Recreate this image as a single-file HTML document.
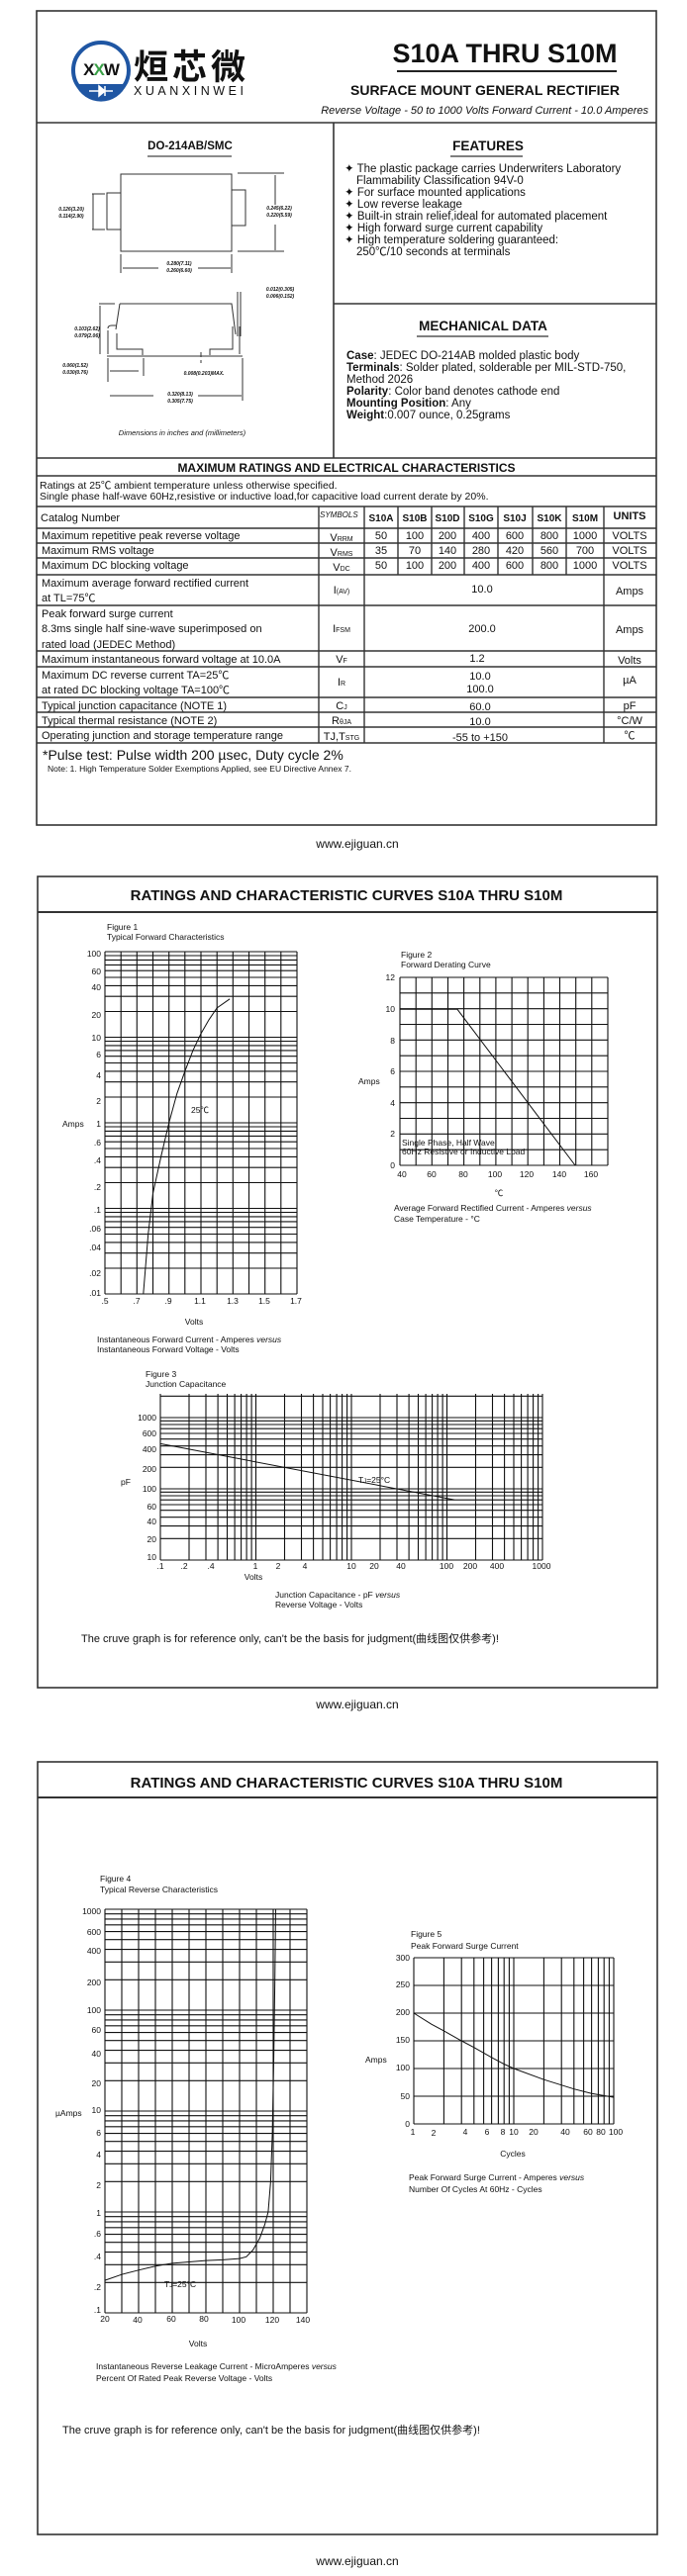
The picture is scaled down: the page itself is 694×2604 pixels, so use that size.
<!DOCTYPE html>
<html><head><meta charset="utf-8">
<style>
html,body{margin:0;padding:0;background:#fff;}
body{width:694px;height:2604px;overflow:hidden;}
svg{display:block;}
text{font-family:"Liberation Sans","Noto Sans CJK SC",sans-serif;fill:#111;}
</style></head>
<body>
<svg id="s" width="694" height="2604" viewBox="0 0 694 2604" xmlns="http://www.w3.org/2000/svg">
<g fill="none" stroke="#333" stroke-width="1.6">
<!-- page 1 box -->
<rect x="37" y="11" width="626" height="823"/>
<line x1="37" y1="124" x2="663" y2="124"/>
<line x1="337" y1="124" x2="337" y2="463"/>
<line x1="337" y1="307" x2="663" y2="307"/>
<line x1="37" y1="463" x2="663" y2="463"/>
<line x1="37" y1="481" x2="663" y2="481"/>
<line x1="37" y1="512" x2="663" y2="512"/>
</g>
<!-- logo -->
<circle cx="102" cy="71" r="28" fill="none" stroke="#1f56a3" stroke-width="4"/>
<path d="M76 85 A28 28 0 0 0 128 85 Z" fill="#1f56a3"/>
<path d="M90 92 H114 M100 87 L106 92 L100 97 Z M106 87 V97" stroke="#fff" stroke-width="1.5" fill="#fff"/>
<text x="102" y="76" font-size="17" text-anchor="middle" fill="#1f56a3" font-weight="bold" letter-spacing="-1">X<tspan fill="#3aa047">X</tspan>W</text>
<text x="135" y="80" font-size="35" font-weight="bold" font-family="Noto Sans CJK SC,sans-serif" textLength="113">烜芯微</text>
<text x="135" y="96" font-size="12.5" textLength="113" letter-spacing="2">XUANXINWEI</text>
<!-- title -->
<text x="510" y="63" font-size="27" font-weight="bold" text-anchor="middle">S10A THRU S10M</text>
<line x1="401" y1="72" x2="623" y2="72" stroke="#222" stroke-width="2"/>
<text x="490" y="96" font-size="14" font-weight="bold" text-anchor="middle">SURFACE MOUNT GENERAL RECTIFIER</text>
<text x="655" y="115" font-size="11" font-style="italic" text-anchor="end">Reverse Voltage - 50 to 1000 Volts    Forward Current - 10.0 Amperes</text>
<!-- package -->
<text x="192" y="151" font-size="11.5" font-weight="bold" text-anchor="middle">DO-214AB/SMC</text>
<line x1="149" y1="158" x2="234" y2="158" stroke="#444" stroke-width="1.2"/>
<g fill="none" stroke="#333" stroke-width="1">
<rect x="122" y="176" width="112" height="78"/>
<rect x="108" y="195" width="14" height="37"/>
<rect x="234" y="192" width="14" height="36"/>
<path d="M93 196 H106 M93 232 H106 M94 196 V232 M240 175 H287 M240 254 H287 M278 177 V207 M278 227 V253 M122 257 V276 M234 257 V276 M124 271 H160 M200 271 H233"/>
<path d="M121 307 H234 L238 338 M121 307 L117 333 M109 332 Q109 329 113 329 L117 329 M108 360 H245 M109 334 V358 M118 337 V353 H144 V359 M242 330 V358 M235 330 V353 H212 V359 M240 295 V340 M243 295 V340 M100 307 H116 M101 309 V358 M109 362 V386 M145 362 V380 M111 375 H140 M245 362 V405 M111 400 H155 M200 400 H244 M203 356 V361 M203 364 V367"/>
</g>
<g font-size="5" font-style="italic" font-weight="bold" text-anchor="middle" fill="#333">
<text x="72" y="213">0.126(3.20)</text><text x="72" y="220">0.114(2.90)</text>
<text x="282" y="212">0.245(6.22)</text><text x="282" y="219">0.220(5.59)</text>
<text x="181" y="268">0.280(7.11)</text><text x="181" y="275">0.260(6.60)</text>
<text x="283" y="294">0.012(0.305)</text><text x="283" y="301">0.006(0.152)</text>
<text x="88" y="334">0.103(2.62)</text><text x="88" y="341">0.079(2.06)</text>
<text x="76" y="371">0.060(1.52)</text><text x="76" y="378">0.030(0.76)</text>
<text x="206" y="379">0.008(0.203)MAX.</text>
<text x="182" y="400">0.320(8.13)</text><text x="182" y="407">0.305(7.75)</text>
</g>
<text x="184" y="440" font-size="7.5" font-style="italic" text-anchor="middle">Dimensions in inches and (millimeters)</text>
<!-- features -->
<text x="493" y="152" font-size="13.5" font-weight="bold" text-anchor="middle">FEATURES</text>
<line x1="455" y1="158" x2="528" y2="158" stroke="#333" stroke-width="1.3"/>
<g font-size="11.5">
<text x="348" y="174">✦ The plastic package carries Underwriters Laboratory</text>
<text x="360" y="186">Flammability Classification 94V-0</text>
<text x="348" y="198">✦ For surface mounted applications</text>
<text x="348" y="210">✦ Low reverse leakage</text>
<text x="348" y="222">✦ Built-in strain relief,ideal for automated placement</text>
<text x="348" y="234">✦ High forward surge current capability</text>
<text x="348" y="246">✦ High temperature soldering guaranteed:</text>
<text x="360" y="258">250℃/10 seconds at terminals</text>
</g>
<text x="488" y="334" font-size="13.5" font-weight="bold" text-anchor="middle">MECHANICAL DATA</text>
<line x1="421" y1="340" x2="554" y2="340" stroke="#333" stroke-width="1.3"/>
<g font-size="11.5">
<text x="350" y="363"><tspan font-weight="bold">Case</tspan>: JEDEC DO-214AB molded plastic body</text>
<text x="350" y="375"><tspan font-weight="bold">Terminals</tspan>: Solder plated, solderable per MIL-STD-750,</text>
<text x="350" y="387">Method 2026</text>
<text x="350" y="399"><tspan font-weight="bold">Polarity</tspan>: Color band denotes cathode end</text>
<text x="350" y="411"><tspan font-weight="bold">Mounting Position</tspan>: Any</text>
<text x="350" y="423"><tspan font-weight="bold">Weight</tspan>:0.007 ounce, 0.25grams</text>
</g>
<!-- ratings -->
<text x="350" y="477" font-size="12" font-weight="bold" text-anchor="middle">MAXIMUM RATINGS AND ELECTRICAL CHARACTERISTICS</text>
<text x="40" y="494" font-size="10.5">Ratings at 25℃ ambient temperature unless otherwise specified.</text>
<text x="40" y="505" font-size="10.5">Single phase half-wave 60Hz,resistive or inductive load,for capacitive load current derate by 20%.</text>
<g fill="none" stroke="#333" stroke-width="1.4">
<path d="M37 534 H663 M37 549 H663 M37 564 H663 M37 581 H663 M37 612 H663 M37 658 H663 M37 674 H663 M37 705 H663 M37 720 H663 M37 735 H663 M37 751 H663"/>
<path d="M322 512 V751 M368 512 V751 M610 512 V751 M402 512 V581 M436 512 V581 M469 512 V581 M503 512 V581 M538 512 V581 M572 512 V581"/>
</g>
<g font-size="11">
<text x="41" y="527">Catalog  Number</text>
<text x="323" y="523" font-size="8" font-style="italic">SYMBOLS</text>
<g font-weight="bold" font-size="10" text-anchor="middle">
<text x="385" y="527">S10A</text><text x="419" y="527">S10B</text><text x="452" y="527">S10D</text><text x="486" y="527">S10G</text><text x="520" y="527">S10J</text><text x="555" y="527">S10K</text><text x="591" y="527">S10M</text>
<text x="636" y="525" font-size="11">UNITS</text></g>
<text x="42" y="545">Maximum repetitive peak reverse voltage</text>
<text x="42" y="560">Maximum RMS voltage</text>
<text x="42" y="575">Maximum DC blocking voltage</text>
<text x="42" y="593">Maximum average forward rectified current</text>
<text x="42" y="608">at TL=75℃</text>
<text x="42" y="624">Peak forward surge current</text>
<text x="42" y="639">8.3ms single half sine-wave superimposed on</text>
<text x="42" y="655">rated load (JEDEC Method)</text>
<text x="42" y="670">Maximum instantaneous forward voltage at 10.0A</text>
<text x="42" y="686">Maximum DC reverse current        TA=25℃</text>
<text x="42" y="701">at rated DC blocking voltage        TA=100℃</text>
<text x="42" y="717">Typical junction capacitance (NOTE 1)</text>
<text x="42" y="732">Typical thermal resistance (NOTE 2)</text>
<text x="42" y="747">Operating junction and storage temperature range</text>
<g text-anchor="middle">
<text x="345" y="547">V<tspan font-size="7">RRM</tspan></text>
<text x="345" y="562">V<tspan font-size="7">RMS</tspan></text>
<text x="345" y="577">V<tspan font-size="7">DC</tspan></text>
<text x="345" y="600">I<tspan font-size="7">(AV)</tspan></text>
<text x="345" y="639">I<tspan font-size="7">FSM</tspan></text>
<text x="345" y="670">V<tspan font-size="7">F</tspan></text>
<text x="345" y="693">I<tspan font-size="7">R</tspan></text>
<text x="345" y="717">C<tspan font-size="7">J</tspan></text>
<text x="345" y="732">R<tspan font-size="7">θJA</tspan></text>
<text x="345" y="748">TJ,T<tspan font-size="7">STG</tspan></text>
<text x="385" y="545">50</text><text x="419" y="545">100</text><text x="452" y="545">200</text><text x="486" y="545">400</text><text x="520" y="545">600</text><text x="555" y="545">800</text><text x="591" y="545">1000</text><text x="636" y="545">VOLTS</text>
<text x="385" y="560">35</text><text x="419" y="560">70</text><text x="452" y="560">140</text><text x="486" y="560">280</text><text x="520" y="560">420</text><text x="555" y="560">560</text><text x="591" y="560">700</text><text x="636" y="560">VOLTS</text>
<text x="385" y="575">50</text><text x="419" y="575">100</text><text x="452" y="575">200</text><text x="486" y="575">400</text><text x="520" y="575">600</text><text x="555" y="575">800</text><text x="591" y="575">1000</text><text x="636" y="575">VOLTS</text>
<text x="487" y="599">10.0</text><text x="636" y="601">Amps</text>
<text x="487" y="639">200.0</text><text x="636" y="640">Amps</text>
<text x="482" y="669">1.2</text><text x="636" y="671">Volts</text>
<text x="485" y="687">10.0</text><text x="485" y="700">100.0</text><text x="636" y="691">µA</text>
<text x="485" y="718">60.0</text><text x="636" y="717">pF</text>
<text x="485" y="733">10.0</text><text x="636" y="732">°C/W</text>
<text x="485" y="749">-55 to +150</text><text x="636" y="747">℃</text>
</g></g>
<text x="43" y="768" font-size="14">*Pulse test: Pulse width 200 µsec, Duty cycle 2%</text>
<text x="48" y="780" font-size="8.5">Note:    1.  High Temperature Solder Exemptions Applied, see EU Directive Annex 7.</text>
<text x="361" y="857" font-size="12" text-anchor="middle">www.ejiguan.cn</text>

<!-- page 2 -->
<g fill="none" stroke="#333" stroke-width="1.6">
<rect x="38" y="886" width="626" height="820"/>
<line x1="38" y1="922" x2="664" y2="922" stroke-width="2"/>
<rect x="38" y="1781" width="626" height="781"/>
<line x1="38" y1="1817" x2="664" y2="1817" stroke-width="2"/>
</g>
<text x="350" y="910" font-size="15" font-weight="bold" text-anchor="middle">RATINGS AND CHARACTERISTIC CURVES S10A THRU S10M</text>
<text x="350" y="1807" font-size="15" font-weight="bold" text-anchor="middle">RATINGS AND CHARACTERISTIC CURVES S10A THRU S10M</text>
<text x="361" y="1727" font-size="12" text-anchor="middle">www.ejiguan.cn</text>
<text x="361" y="2593" font-size="12" text-anchor="middle">www.ejiguan.cn</text>
<g id="grids" fill="none" stroke="#111" stroke-width="1.1"></g>
<g id="curves" fill="none" stroke="#111" stroke-width="1"></g>
<g font-size="8.5">
<text x="108" y="940">Figure 1</text><text x="108" y="950">Typical Forward Characteristics</text>
<g text-anchor="end">
<text x="102" y="967">100</text><text x="102" y="985">60</text><text x="102" y="1001">40</text><text x="102" y="1029">20</text><text x="102" y="1052">10</text><text x="102" y="1069">6</text><text x="102" y="1090">4</text><text x="102" y="1116">2</text><text x="102" y="1139">1</text><text x="102" y="1158">.6</text><text x="102" y="1176">.4</text><text x="102" y="1203">.2</text><text x="102" y="1226">.1</text><text x="102" y="1245">.06</text><text x="102" y="1264">.04</text><text x="102" y="1290">.02</text><text x="102" y="1310">.01</text>
</g>
<text x="63" y="1139">Amps</text>
<text x="193" y="1125">25℃</text>
<g text-anchor="middle"><text x="106" y="1318">.5</text><text x="138" y="1318">.7</text><text x="170" y="1318">.9</text><text x="202" y="1318">1.1</text><text x="235" y="1318">1.3</text><text x="267" y="1318">1.5</text><text x="299" y="1318">1.7</text>
<text x="196" y="1339">Volts</text></g>
<text x="98" y="1357">Instantaneous Forward Current - Amperes <tspan font-style="italic">versus</tspan></text>
<text x="98" y="1367">Instantaneous Forward Voltage - Volts</text>

<text x="405" y="968">Figure 2</text><text x="405" y="978">Forward Derating Curve</text>
<g text-anchor="end"><text x="399" y="991">12</text><text x="399" y="1023">10</text><text x="399" y="1055">8</text><text x="399" y="1086">6</text><text x="399" y="1118">4</text><text x="399" y="1149">2</text><text x="399" y="1181">0</text></g>
<text x="362" y="1096">Amps</text>
<g text-anchor="middle"><text x="406" y="1190">40</text><text x="436" y="1190">60</text><text x="468" y="1190">80</text><text x="500" y="1190">100</text><text x="532" y="1190">120</text><text x="565" y="1190">140</text><text x="597" y="1190">160</text><text x="504" y="1209">℃</text></g>
<text x="406" y="1158">Single Phase, Half Wave</text><text x="406" y="1167">60Hz Resistive or Inductive Load</text>
<text x="398" y="1224">Average Forward Rectified Current  -  Amperes <tspan font-style="italic">versus</tspan></text>
<text x="398" y="1235">Case Temperature  - °C</text>

<text x="147" y="1392">Figure 3</text><text x="147" y="1402">Junction Capacitance</text>
<g text-anchor="end"><text x="158" y="1436">1000</text><text x="158" y="1452">600</text><text x="158" y="1468">400</text><text x="158" y="1488">200</text><text x="158" y="1508">100</text><text x="158" y="1526">60</text><text x="158" y="1541">40</text><text x="158" y="1559">20</text><text x="158" y="1577">10</text></g>
<text x="122" y="1501">pF</text>
<text x="362" y="1499">T<tspan font-size="6">J</tspan>=25°C</text>
<g text-anchor="middle"><text x="162" y="1586">.1</text><text x="186" y="1586">.2</text><text x="213" y="1586">.4</text><text x="258" y="1586">1</text><text x="281" y="1586">2</text><text x="308" y="1586">4</text><text x="355" y="1586">10</text><text x="378" y="1586">20</text><text x="405" y="1586">40</text><text x="451" y="1586">100</text><text x="475" y="1586">200</text><text x="502" y="1586">400</text><text x="547" y="1586">1000</text><text x="256" y="1597">Volts</text></g>
<text x="278" y="1615">Junction Capacitance - pF <tspan font-style="italic">versus</tspan></text>
<text x="278" y="1625">Reverse Voltage - Volts</text>
<text x="82" y="1660" font-size="11">The cruve graph is for reference only, can't be the basis for judgment(曲线图仅供参考)!</text>

<text x="101" y="1902">Figure 4</text><text x="101" y="1913">Typical Reverse Characteristics</text>
<g text-anchor="end"><text x="102" y="1935">1000</text><text x="102" y="1956">600</text><text x="102" y="1975">400</text><text x="102" y="2007">200</text><text x="102" y="2035">100</text><text x="102" y="2055">60</text><text x="102" y="2079">40</text><text x="102" y="2109">20</text><text x="102" y="2136">10</text><text x="102" y="2159">6</text><text x="102" y="2181">4</text><text x="102" y="2212">2</text><text x="102" y="2240">1</text><text x="102" y="2261">.6</text><text x="102" y="2284">.4</text><text x="102" y="2315">.2</text><text x="102" y="2338">.1</text></g>
<text x="56" y="2139">µAmps</text>
<text x="166" y="2312">T<tspan font-size="6">J</tspan>=25°C</text>
<g text-anchor="middle"><text x="106" y="2347">20</text><text x="139" y="2348">40</text><text x="173" y="2347">60</text><text x="206" y="2347">80</text><text x="241" y="2348">100</text><text x="275" y="2348">120</text><text x="306" y="2348">140</text><text x="200" y="2372">Volts</text></g>
<text x="97" y="2395">Instantaneous Reverse Leakage Current - MicroAmperes <tspan font-style="italic">versus</tspan></text>
<text x="97" y="2407">Percent Of Rated Peak Reverse Voltage - Volts</text>
<text x="63" y="2460" font-size="11">The cruve graph is for reference only, can't be the basis for judgment(曲线图仅供参考)!</text>

<text x="415" y="1958">Figure 5</text><text x="415" y="1970">Peak Forward Surge Current</text>
<g text-anchor="end"><text x="414" y="1982">300</text><text x="414" y="2009">250</text><text x="414" y="2037">200</text><text x="414" y="2065">150</text><text x="414" y="2093">100</text><text x="414" y="2122">50</text><text x="414" y="2150">0</text></g>
<text x="369" y="2085">Amps</text>
<g text-anchor="middle"><text x="417" y="2158">1</text><text x="438" y="2159">2</text><text x="470" y="2158">4</text><text x="492" y="2158">6</text><text x="508" y="2158">8</text><text x="519" y="2158">10</text><text x="539" y="2158">20</text><text x="571" y="2158">40</text><text x="594" y="2158">60</text><text x="607" y="2158">80</text><text x="622" y="2158">100</text><text x="518" y="2180">Cycles</text></g>
<text x="413" y="2204">Peak Forward Surge Current - Amperes <tspan font-style="italic">versus</tspan></text>
<text x="413" y="2216">Number Of Cycles At 60Hz - Cycles</text>
</g>
</svg>
<script>
(function(){
var g=document.getElementById('grids'),c=document.getElementById('curves'),d='';
function L(x1,y1,x2,y2){d+='M'+x1.toFixed(1)+' '+y1.toFixed(1)+'L'+x2.toFixed(1)+' '+y2.toFixed(1);}
function lg(v){return Math.log(v)/Math.LN10;}
function logVals(a,b){var r=[];for(var e=a;e<b;e++){for(var m=1;m<10;m++)r.push(m*Math.pow(10,e));}r.push(Math.pow(10,b));return r;}
// Fig1
var X0=106,X1=300,Y0=962,Y1=1308;
var fy=function(I){return Y1-(lg(I)+2)*(Y1-Y0)/4;};
logVals(-2,2).forEach(function(v){L(X0,fy(v),X1,fy(v));});
for(var i=0;i<=12;i++){var x=X0+i*(X1-X0)/12;L(x,Y0,x,Y1);}
var fx=function(V){return X0+(V-0.5)*(X1-X0)/1.2;};
var p1=[[0.74,0.01],[0.77,0.05],[0.8,0.15],[0.85,0.4],[0.9,1],[0.95,2.2],[1.0,4],[1.05,7],[1.1,11],[1.15,16],[1.2,22],[1.28,28]];
var pd='M'+p1.map(function(p){return fx(p[0]).toFixed(1)+' '+fy(p[1]).toFixed(1);}).join(' L');
// Fig2
X0=404;X1=614;Y0=988;Y1=1178;
for(i=0;i<=13;i++){x=X0+i*(X1-X0)/13;L(x,Y0,x,Y1);}
for(i=0;i<=12;i++){var y=Y0+i*(Y1-Y0)/12;L(X0,y,X1,y);}
pd+=' M404 1020.3 L462 1020.3 L581 1178';
// Fig3
X0=162;X1=548;Y0=1409;Y1=1577;
var gx=function(v){return X0+(lg(v)+1)*(X1-X0)/4;};
var gy=function(v){return Y1-(lg(v)-1)*72;};
logVals(-1,3).forEach(function(v){L(gx(v),Y0,gx(v),Y1);});
logVals(1,3).concat([2000]).forEach(function(v){L(X0,gy(v),X1,gy(v));});
pd+=' M'+gx(0.1)+' '+gy(430)+' L'+gx(120)+' '+gy(70);
// Fig4
X0=106;X1=310;Y0=1930;Y1=2338;
var hy=function(v){return Y1-(lg(v)+1)*102;};
var hx=function(v){return X0+(v-20)*1.7;};
logVals(-1,3).forEach(function(v){L(X0,hy(v),X1,hy(v));});
for(i=0;i<=12;i++){x=X0+i*17;L(x,Y0,x,Y1);}
var p4=[[20,0.21],[30,0.24],[40,0.265],[50,0.29],[60,0.31],[70,0.32],[80,0.33],[90,0.335],[100,0.345],[104,0.36],[108,0.42],[112,0.55],[115,0.75],[117,1],[118.5,2],[119.5,6],[120.3,30],[121,200],[121.5,1000]];
pd+=' M'+p4.map(function(p){return hx(p[0]).toFixed(1)+' '+hy(p[1]).toFixed(1);}).join(' L');
// Fig5
X0=418;X1=620;Y0=1979;Y1=2147;
var kx=function(n){return X0+lg(n)*101;},ky=function(a){return Y1-a*0.56;};
logVals(0,2).forEach(function(v){L(kx(v),Y0,kx(v),Y1);});
for(i=0;i<=6;i++){y=Y0+i*28;L(X0,y,X1,y);}
var p5=[[1,200],[1.5,180],[2,168],[3,150],[4,138],[6,120],[8,108],[10,100],[20,80],[40,63],[60,55],[100,48]];
pd+=' M'+p5.map(function(p){return kx(p[0]).toFixed(1)+' '+ky(p[1]).toFixed(1);}).join(' L');
var ns='http://www.w3.org/2000/svg';
var a=document.createElementNS(ns,'path');a.setAttribute('d',d);g.appendChild(a);
var b=document.createElementNS(ns,'path');b.setAttribute('d',pd);c.appendChild(b);
})();
</script>
</body></html>
